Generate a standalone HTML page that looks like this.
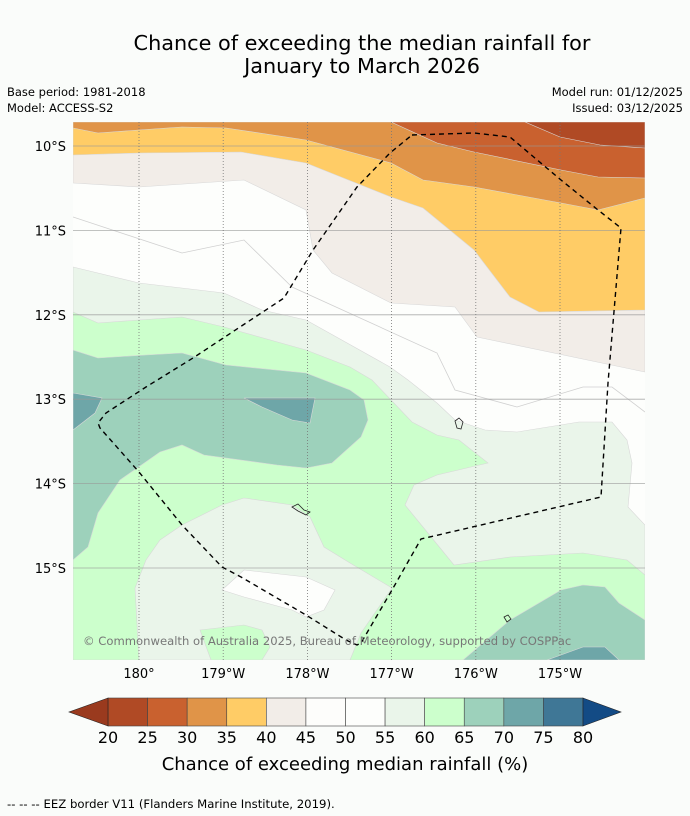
<!DOCTYPE html>
<html><head><meta charset="utf-8"><style>
body{margin:0;background:#fafcfa;width:690px;height:816px;overflow:hidden;font-family:"Liberation Sans","DejaVu Sans",sans-serif}
svg{position:absolute;left:0;top:0}
</style></head><body>
<svg id="s" width="690" height="816" viewBox="0 0 690 816" font-family="'DejaVu Sans','Liberation Sans',sans-serif">
<text x="362" y="50" font-size="20.8" text-anchor="middle">Chance of exceeding the median rainfall for</text>
<text x="362" y="73" font-size="20.8" text-anchor="middle">January to March 2026</text>
<text x="7" y="96" font-size="11.5">Base period: 1981-2018</text>
<text x="7" y="112" font-size="11.5">Model: ACCESS-S2</text>
<text x="683" y="96" font-size="11.5" text-anchor="end">Model run: 01/12/2025</text>
<text x="683" y="112" font-size="11.5" text-anchor="end">Issued: 03/12/2025</text>
<defs><clipPath id="mc"><rect x="73" y="122" width="572" height="538"/></clipPath></defs>
<g id="map" clip-path="url(#mc)"></g>
<g id="axes"></g>
<g id="cbar"></g>
<text x="345" y="770" font-size="18" text-anchor="middle">Chance of exceeding median rainfall (%)</text>
<text x="7" y="808" font-size="11.7">-- -- -- EEZ border V11 (Flanders Marine Institute, 2019).</text>
</svg>
<script>
const lonLabels=["180°","179°W","178°W","177°W","176°W","175°W"];
const lonValues=[180,179,178,177,176,175];
const latLabels=["10°S","11°S","12°S","13°S","14°S","15°S"];
const latValues=[10,11,12,13,14,15];
const cbLevels=[20,25,30,35,40,45,50,55,60,65,70,75,80];
const cbColors=["#b04a25","#c9612f","#e09448","#ffcc66","#f2ede8","#fdfdfb","#fdfefc","#eaf5ea","#ccffcc","#9dd1bb","#6ea6a8","#3f7796"];
// contour region geometry (map pixel outlines)
const regions=[
 ["#eaf5ea","lightgreen-55-60",[[73,267],[139,283],[224,293],[262,310],[306,320],[390,367],[408,380],[437,403],[455,420],[485,430],[517,432],[579,422],[612,422],[627,440],[632,463],[628,507],[645,525],[645,660],[73,660]]],
 ["#ccffcc","green-60-65",[[73,312],[98,323],[139,320],[182,317],[224,327],[306,350],[350,367],[372,380],[412,422],[437,435],[459,440],[488,463],[437,475],[414,485],[405,505],[423,527],[454,565],[510,557],[583,553],[627,560],[645,575],[645,660],[73,660]]],
 ["#eaf5ea","lightgreen-island",[[139,660],[135,588],[146,560],[160,540],[182,525],[222,505],[244,498],[292,505],[310,517],[324,547],[350,563],[392,588],[361,633],[350,660]]],
 ["#ccffcc","green-island",[[200,630],[244,625],[262,630],[270,647],[262,660],[211,660]]],
 ["#fdfefc","white-blob",[[222,590],[244,570],[306,577],[335,590],[324,610],[306,617],[292,610],[244,597]]],
 ["#9dd1bb","teal-65-70",[[73,350],[98,358],[146,355],[182,353],[226,365],[306,373],[350,390],[364,400],[368,420],[361,437],[332,463],[306,468],[277,465],[204,455],[182,445],[160,452],[120,480],[98,513],[88,547],[73,560]]],
 ["#6ea6a8","teal-70-75-west",[[73,393],[102,398],[95,413],[73,430]]],
 ["#6ea6a8","teal-70-75-mid",[[244,398],[315,398],[310,423],[292,420],[262,407]]],
 ["#9dd1bb","teal-southeast",[[463,660],[510,620],[561,590],[583,585],[605,587],[619,603],[645,620],[645,660]]],
 ["#6ea6a8","teal-dark-southeast",[[547,660],[583,647],[605,647],[619,660]]],
 ["#f2ede8","beige-40-45",[[73,122],[645,122],[645,372],[477,337],[455,307],[391,303],[332,273],[313,250],[306,210],[244,180],[139,187],[73,183]]],
 ["#ffcc66","yellow-35-40",[[73,122],[645,122],[645,310],[539,312],[510,297],[474,250],[423,208],[391,197],[306,163],[241,152],[139,153],[73,155]]],
 ["#e09448","orange-30-35",[[73,122],[645,122],[645,198],[598,210],[561,203],[474,187],[423,180],[391,163],[306,140],[226,128],[182,127],[139,130],[98,133],[73,128]]],
 ["#c9612f","red-25-30",[[391,122],[645,122],[645,178],[598,177],[561,170],[474,152],[437,143]]],
 ["#b04a25","darkred-20-25",[[525,122],[645,122],[645,148],[600,145],[560,137]]]
];
const contourLine=[[73,217],[182,253],[244,240],[292,287],[437,353],[455,390],[517,407],[583,387],[612,387],[645,412]];
const eez=[[412,135],[474,133],[510,137],[561,180],[598,210],[621,228],[608,383],[601,497],[421,539],[392,590],[361,643],[357,645],[346,640],[306,615],[241,577],[222,567],[182,525],[139,472],[100,428],[98,423],[106,413],[146,387],[193,358],[284,298],[313,250],[357,187],[390,153],[412,135]];
const NS="http://www.w3.org/2000/svg";
function mk(t,a,p){const e=document.createElementNS(NS,t);for(const k in a)e.setAttribute(k,a[k]);p.appendChild(e);return e;}
const xLon=l=>139+(180-l)*84.2;
const yLat=l=>146+(l-10)*84.4;
const map=document.getElementById('map');
let bg=mk('rect',{x:73,y:122,width:572,height:538,fill:'#fdfefc'},map);


regions.forEach(r=>{
 const p=mk('polygon',{points:r[2].map(q=>q.join(',')).join(' '),fill:r[0],stroke:'#d8d8d8','stroke-width':0.6},map);
 
 
});
let cl=mk('polyline',{points:contourLine.map(q=>q.join(',')).join(' '),fill:'none',stroke:'#d0d0d0','stroke-width':0.8},map);


latValues.forEach(v=>{
 const g=mk('line',{x1:73,x2:645,y1:yLat(v),y2:yLat(v),stroke:'#999','stroke-width':0.8,opacity:0.8},map);
 
 
});
lonValues.forEach(v=>{
 const g=mk('line',{x1:xLon(v),x2:xLon(v),y1:122,y2:660,stroke:'#777','stroke-width':0.8,'stroke-dasharray':'1,2'},map);
 
 
});
[[[455,421],[459,418],[463,422],[461,429],[457,428]],[[292,507],[298,504],[304,510],[310,512],[306,515],[298,511]],[[504,617],[508,615],[511,619],[507,622]]].forEach(is=>{
 const p=mk('polygon',{points:is.map(q=>q.join(',')).join(' '),fill:'none',stroke:'#222','stroke-width':0.8},map);
 
 
});
let ez=mk('polyline',{points:eez.map(q=>q.join(',')).join(' '),fill:'none',stroke:'#000','stroke-width':1.4,'stroke-dasharray':'5,4'},map);


let cp=mk('text',{x:83,y:645,'font-size':11.6,fill:'#777'},map);
cp.textContent='© Commonwealth of Australia 2025, Bureau of Meteorology, supported by COSPPac';


const axes=document.getElementById('axes');
latValues.forEach((v,i)=>{
 const t=mk('text',{x:66,y:yLat(v)+5,'font-size':13,'text-anchor':'end'},axes);
 t.textContent=latLabels[i];
 
 
});
lonValues.forEach((v,i)=>{
 const t=mk('text',{x:xLon(v),y:678,'font-size':13,'text-anchor':'middle'},axes);
 t.textContent=lonLabels[i];
 
 
});
const cb=document.getElementById('cbar');
const cx0=108,cx1=583,cy=698,ch=28,cw=(cx1-cx0)/cbColors.length;
cbColors.forEach((c,i)=>{
 const r=mk('rect',{x:cx0+i*cw,y:cy,width:cw,height:ch,fill:c,stroke:'#444','stroke-width':0.6},cb);
 
 
});
let lt=mk('polygon',{points:`${cx0},${cy} ${cx0},${cy+ch} 69,${cy+ch/2}`,fill:'#9a3a1e',stroke:'#222','stroke-width':0.6},cb);


let rt=mk('polygon',{points:`${cx1},${cy} ${cx1},${cy+ch} 621,${cy+ch/2}`,fill:'#134b85',stroke:'#222','stroke-width':0.6},cb);


cbLevels.forEach((v,i)=>{
 const t=mk('text',{x:cx0+i*cw,y:743,'font-size':16,'text-anchor':'middle'},cb);
 t.textContent=v;
 
 
});
</script>
</body></html>
